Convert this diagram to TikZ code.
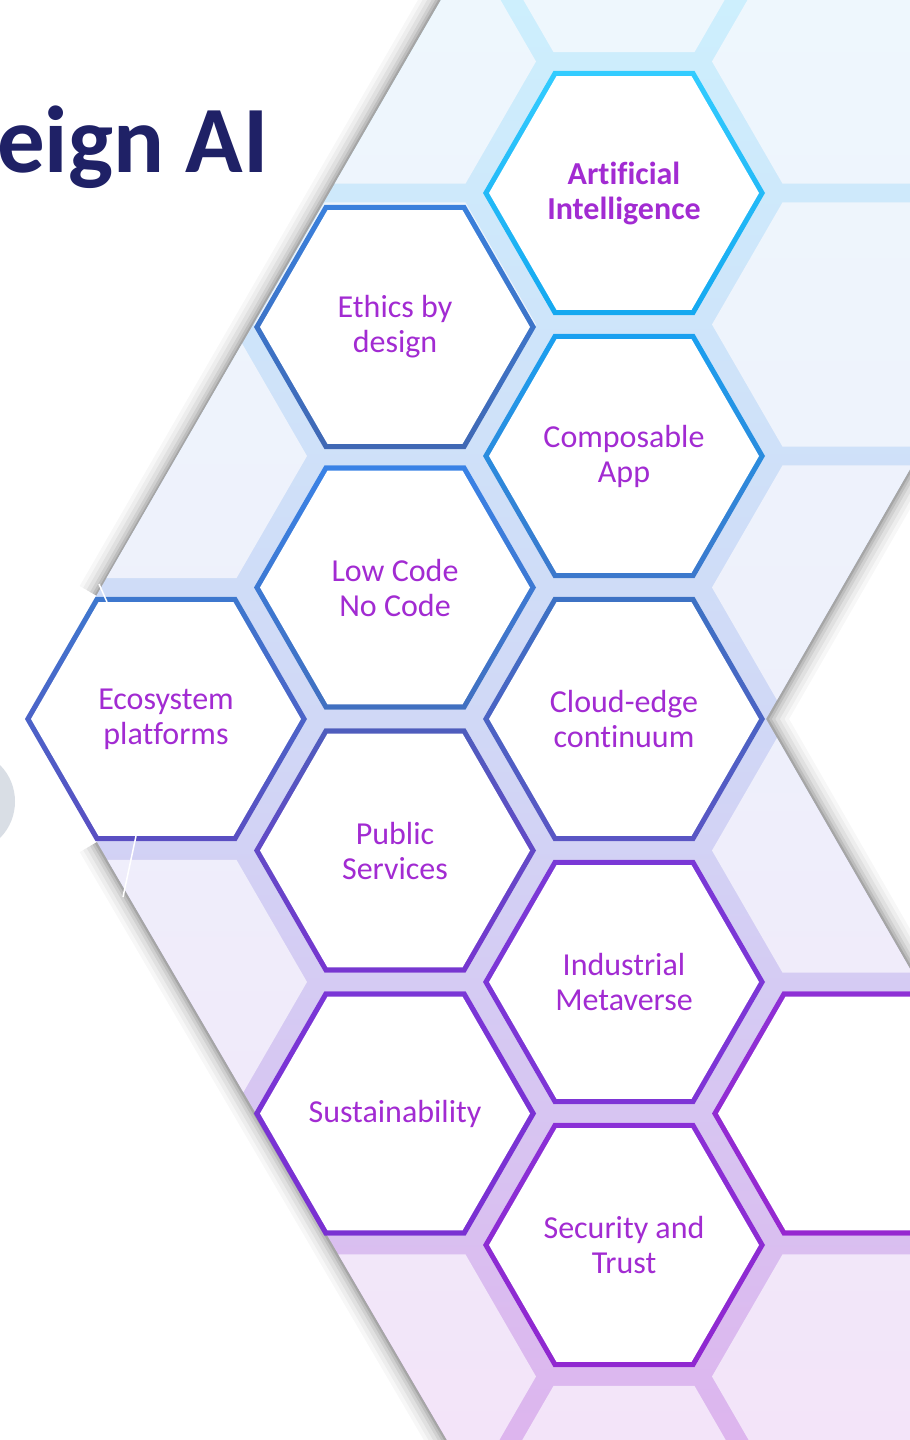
\documentclass[tikz,border=0pt]{standalone}
\usepackage{fontspec}
\setmainfont{Carlito}[Ligatures=CommonOff]
\usetikzlibrary{shapes.geometric}
\definecolor{titlenavy}{HTML}{1F2166}
\definecolor{labelpurple}{HTML}{A22BD2}
\definecolor{bandtop}{HTML}{CDEFFD}
\definecolor{bandmid}{HTML}{D0D8F6}
\definecolor{bandbot}{HTML}{DDB5EE}
\definecolor{celltop}{HTML}{EEF7FD}
\definecolor{cellmid}{HTML}{EEF0FB}
\definecolor{cellbot}{HTML}{F3E4F9}
\definecolor{arcgray}{HTML}{D9DEE5}
\definecolor{aiTop}{HTML}{33CCFF}
\definecolor{aiBot}{HTML}{14A8F0}
\definecolor{ethicsTop}{HTML}{3A80DC}
\definecolor{ethicsBot}{HTML}{4068B4}
\definecolor{compTop}{HTML}{1AA0F0}
\definecolor{compBot}{HTML}{3C78CC}
\definecolor{lowTop}{HTML}{3A82E6}
\definecolor{lowBot}{HTML}{4170C0}
\definecolor{ecoTop}{HTML}{3E78CE}
\definecolor{ecoBot}{HTML}{5A4EC2}
\definecolor{cloudTop}{HTML}{3D72C4}
\definecolor{cloudBot}{HTML}{5A55C4}
\definecolor{publicTop}{HTML}{4E5DBD}
\definecolor{publicBot}{HTML}{7736D0}
\definecolor{indTop}{HTML}{7A38D6}
\definecolor{indBot}{HTML}{7E35D6}
\definecolor{sustTop}{HTML}{7A36D6}
\definecolor{sustBot}{HTML}{7A30D2}
\definecolor{secTop}{HTML}{8A30D6}
\definecolor{secBot}{HTML}{9028D0}
\definecolor{sideTop}{HTML}{8E30D5}
\definecolor{sideBot}{HTML}{9628D0}
\begin{document}
\begin{tikzpicture}[x=1pt, y=-1pt]
\tikzstyle{hexcell} = [regular polygon, regular polygon sides=6, minimum size=282pt, inner sep=0pt, text=labelpurple, align=center, font=\fontsize{32}{35}\selectfont, path picture={\fill[white] (path picture bounding box.center) +(0:135) -- +(60:135) -- +(120:135) -- +(180:135) -- +(240:135) -- +(300:135) -- cycle;}]
\useasboundingbox (0,0) rectangle (910,1440);
\fill[white] (0,0) rectangle (910,1440);
\fill[arcgray] (0,765) .. controls (20,785) and (20,818) .. (0,838) -- cycle;
\foreach \w/\o in {40/0.03, 32/0.04, 24/0.05, 16/0.07, 10/0.09, 5/0.12} {
  \draw[line width=\w pt, black, opacity=\o] (441,0) -- (97,596);
  \draw[line width=\w pt, black, opacity=\o] (97,842) -- (447,1440);
  \draw[line width=\w pt, black, opacity=\o] (910,469) -- (766,719) -- (910,969);
}
\begin{scope}
\clip (441,0) -- (910,0) -- (910,469) -- (766,719) -- (910,969) -- (910,1440) -- (447,1440) -- (25,719) -- cycle;
\shade[top color=bandtop, bottom color=bandbot, middle color=bandmid] (0,0) rectangle (910,1440);
\clip \foreach \cx/\dy in {166/0, 395/131.5, 624/0, 853/131.5} { \foreach \r in {-1,...,5} { (\cx,{193+\dy+263*\r}) +(0:141) -- +(60:141) -- +(120:141) -- +(180:141) -- +(240:141) -- +(300:141) -- cycle } };
\shade[top color=celltop, bottom color=cellbot, middle color=cellmid] (0,0) rectangle (910,1440);
\end{scope}
\node[hexcell, top color=aiTop, bottom color=aiBot, font=\fontsize{32}{35}\selectfont\bfseries] (ai) at (624,193) {Artificial\\Intelligence};
\node[hexcell, top color=compTop, bottom color=compBot] (comp) at (624,456) {Composable\\App};
\node[hexcell, top color=cloudTop, bottom color=cloudBot] (cloud) at (624,719) {Cloud-edge\\continuum};
\node[hexcell, top color=indTop, bottom color=indBot] (ind) at (624,982) {Industrial\\Metaverse};
\node[hexcell, top color=secTop, bottom color=secBot] (sec) at (624,1245) {Security and\\Trust};
\node[hexcell, top color=ethicsTop, bottom color=ethicsBot] (ethics) at (395,327) {Ethics by\\design};
\node[hexcell, top color=lowTop, bottom color=lowBot] (low) at (395,587.5) {Low Code\\No Code};
\node[hexcell, top color=publicTop, bottom color=publicBot] (public) at (395,850.5) {Public\\Services};
\node[hexcell, top color=sustTop, bottom color=sustBot] (sust) at (395,1113.5) {Sustainability};
\node[hexcell, top color=ecoTop, bottom color=ecoBot] (eco) at (166,719) {Ecosystem\\platforms};
\node[hexcell, top color=sideTop, bottom color=sideBot] (side) at (853,1113.5) {};
\node[anchor=base west, inner sep=0pt, text=titlenavy, font=\fontsize{95}{95}\selectfont\bfseries] (title) at (-3,172) {eign AI};
\draw[white, line width=1.5pt] (99,584) -- (107,602);
\draw[white, line width=1.5pt] (136,836) -- (123,897);
\end{tikzpicture}
\end{document}
